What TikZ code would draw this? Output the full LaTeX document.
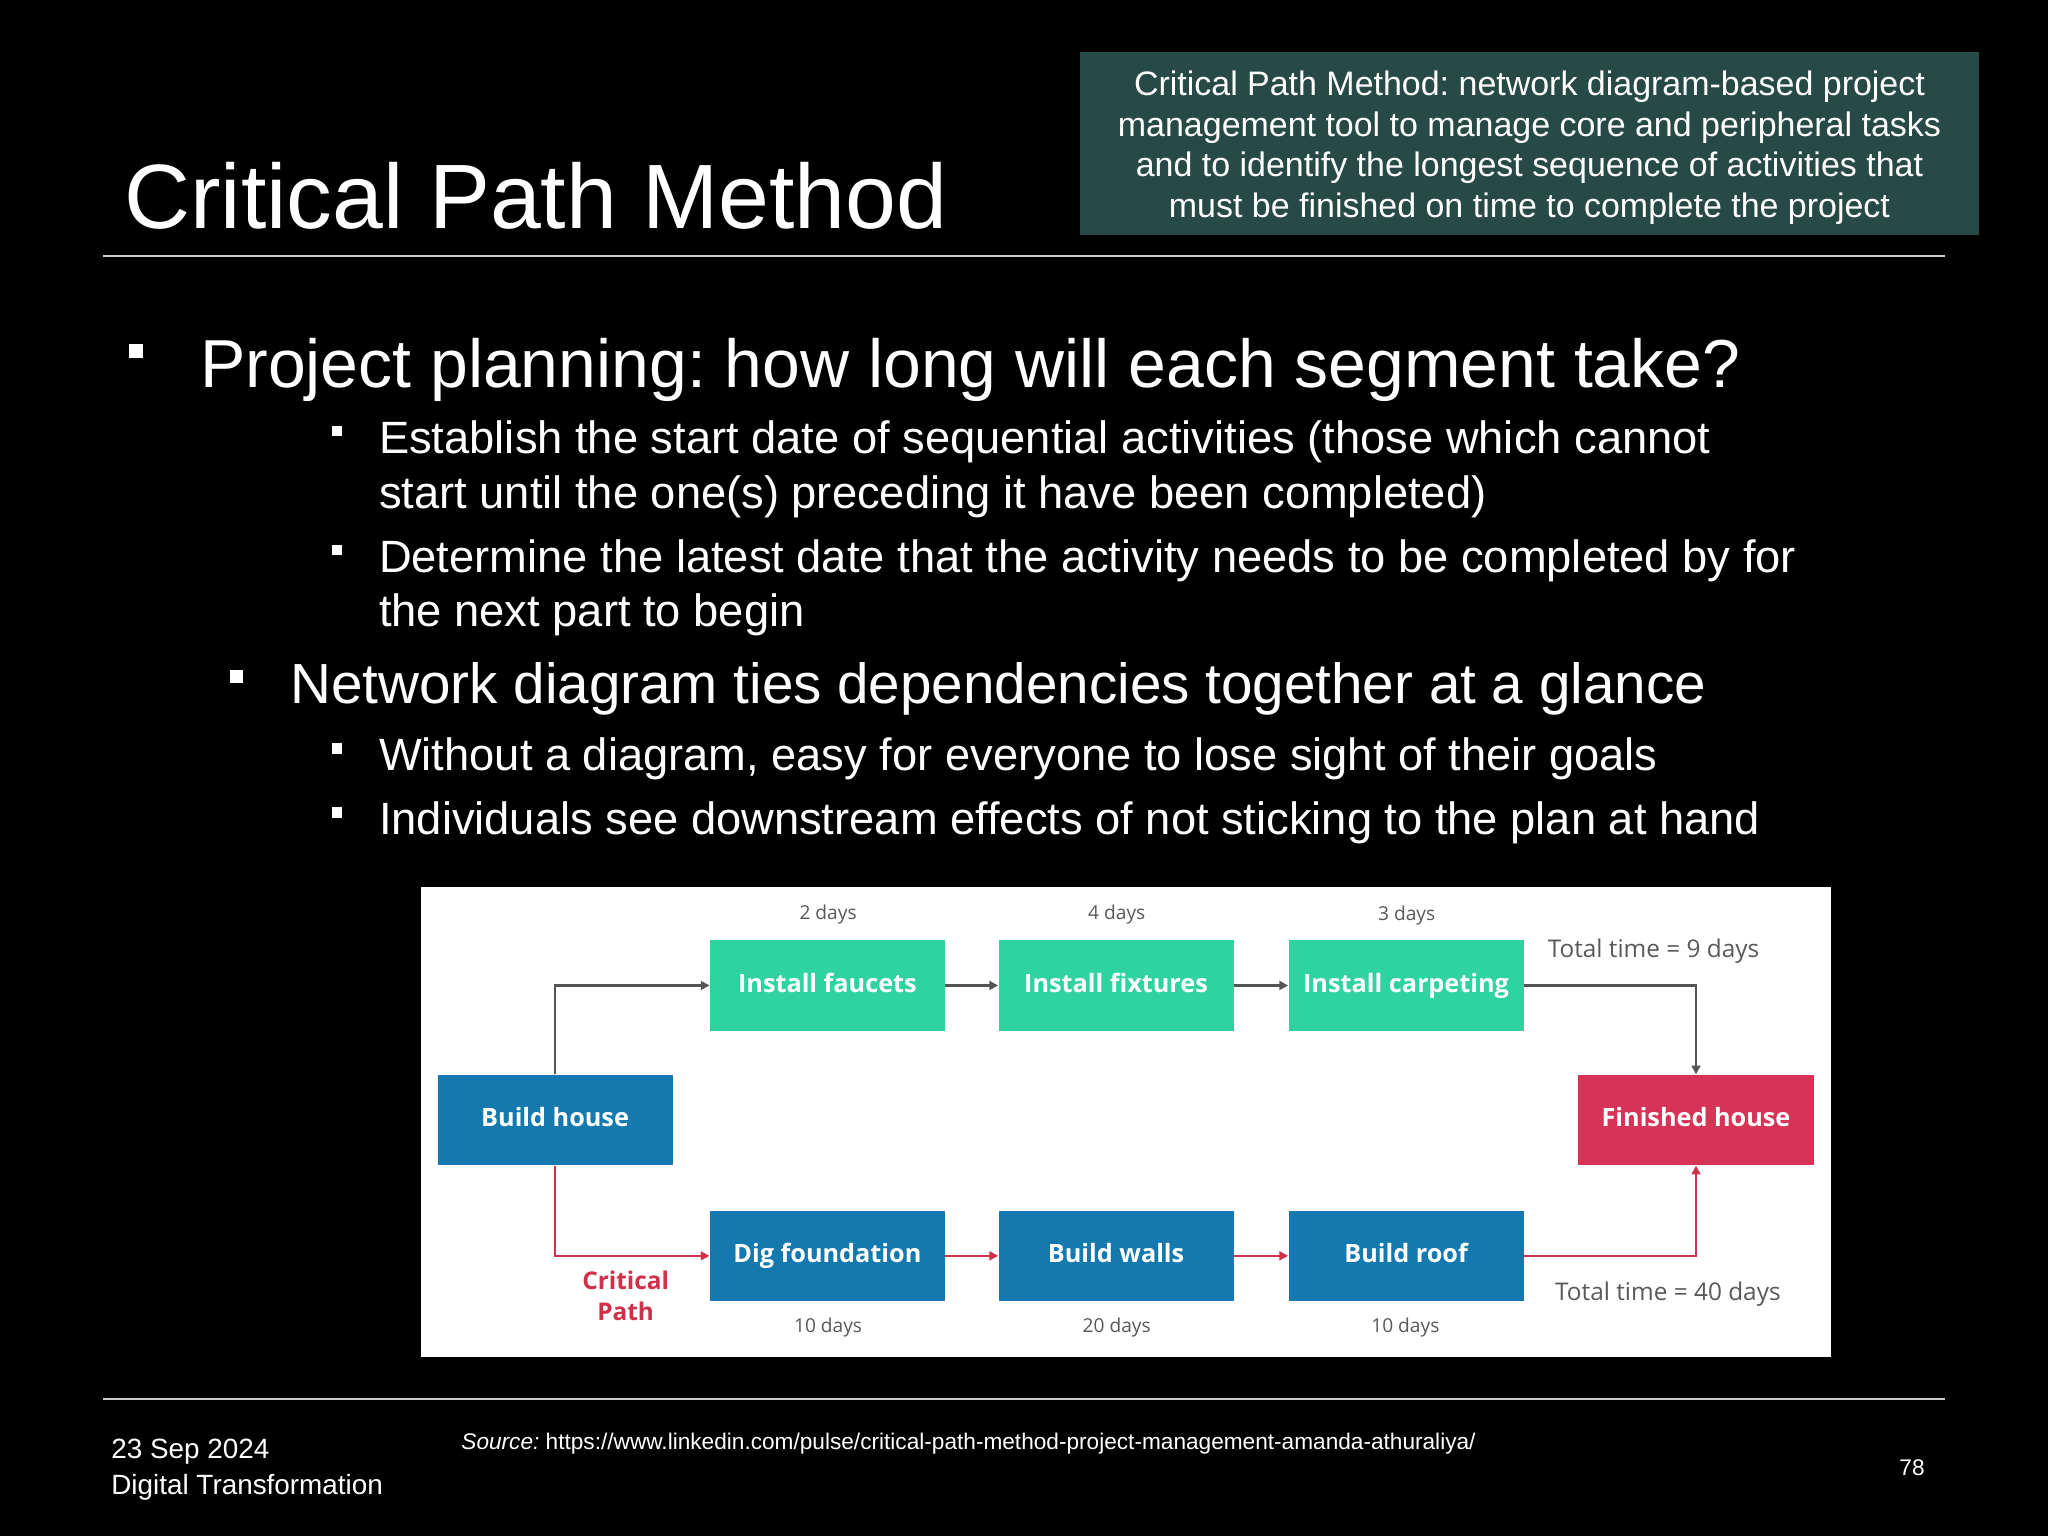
\documentclass[tikz,border=0pt]{standalone}
\usepackage{fontspec}
\setmainfont{Liberation Sans}
\newfontfamily\dfont{Open Sans}
\usetikzlibrary{arrows.meta}
\definecolor{teal}{HTML}{284A47}
\definecolor{grn}{HTML}{2ED3A0}
\definecolor{blu}{HTML}{1479AE}
\definecolor{rd}{HTML}{D63356}
\definecolor{gline}{HTML}{555555}
\definecolor{crit}{HTML}{D0304A}
\tikzset{
 fs/.style={font=\fontsize{#1}{1.2em}\selectfont},
 bul/.style={fill=white,minimum size=#1,inner sep=0pt},
 txt/.style={text=white,anchor=base west,inner sep=0pt},
 box/.style={minimum width=135pt,minimum height=52pt,inner sep=0pt,text height=10.5pt,text depth=3pt,text=white,font=\dfont\bfseries\fontsize{14.5}{16}\selectfont},
 gbox/.style={box,fill=grn},
 bbox/.style={box,fill=blu},
 rbox/.style={box,fill=rd},
 dlab/.style={text=black!65,font=\dfont\fontsize{11}{13}\selectfont,inner sep=0pt},
 tlab/.style={text=black!65,font=\dfont\fontsize{14}{16}\selectfont,inner sep=0pt},
 garr/.style={draw=gline,line width=1.4pt,-{Triangle[length=5pt,width=5pt]}},
 rarr/.style={draw=crit,line width=1.4pt,-{Triangle[length=5pt,width=5pt]}},
}
\begin{document}
\frenchspacing
\begin{tikzpicture}[x=0.75pt,y=-0.75pt]
\fill[black] (0,0) rectangle (1568,1176);
\useasboundingbox (0,0) rectangle (1568,1176);
% title
\node[txt,fs=52.5] (title) at (95,175) {Critical Path Method};
\fill[teal] (827,40) rectangle (1515,180);
\node[text=white,align=center,font=\fontsize{19.5}{23.3}\selectfont,inner sep=0pt] (def) at (1171,113) {Critical Path Method: network diagram-based project\\management tool to manage core and peripheral tasks\\and to identify the longest sequence of activities that\\must be finished on time to complete the project};
\draw[white!80!black,line width=1pt] (79,196) -- (1489,196);
% bullets
\node[bul=8pt] (b1) at (104,269) {};
\node[txt,fs=39] (t1) at (153,297) {Project planning: how long will each segment take?};
\node[bul=6pt] (b2) at (258,330) {};
\node[txt,fs=26] (t2) at (290,347) {Establish the start date of sequential activities (those which cannot};
\node[txt,fs=26] (t2b) at (290,389) {start until the one(s) preceding it have been completed)};
\node[bul=6pt] (b3) at (258,421) {};
\node[txt,fs=26] (t3) at (290,438) {Determine the latest date that the activity needs to be completed by for};
\node[txt,fs=26] (t3b) at (290,480) {the next part to begin};
\node[bul=7pt] (b4) at (181,518) {};
\node[txt,fs=32.5] (t4) at (222,539) {Network diagram ties dependencies together at a glance};
\node[bul=6pt] (b5) at (258,573) {};
\node[txt,fs=26] (t5) at (290,590) {Without a diagram, easy for everyone to lose sight of their goals};
\node[bul=6pt] (b6) at (258,622) {};
\node[txt,fs=26] (t6) at (290,639) {Individuals see downstream effects of not sticking to the plan at hand};
% diagram panel
\fill[white] (322,679) rectangle (1402,1039);
\node[bbox] (bh) at (425,857.5) {Build house};
\node[gbox] (f1) at (633.5,754.5) {Install faucets};
\node[gbox] (f2) at (854.5,754.5) {Install fixtures};
\node[gbox] (f3) at (1076.5,754.5) {Install carpeting};
\node[rbox] (fh) at (1298.5,857.5) {Finished house};
\node[bbox] (d1) at (633.5,961.5) {Dig foundation};
\node[bbox] (d2) at (854.5,961.5) {Build walls};
\node[bbox] (d3) at (1076.5,961.5) {Build roof};
\node[dlab] (l1) at (634,700) {2 days};
\node[dlab] (l2) at (855,700) {4 days};
\node[dlab] (l3) at (1077,701) {3 days};
\node[dlab] (l4) at (634,1016) {10 days};
\node[dlab] (l5) at (855,1016) {20 days};
\node[dlab] (l6) at (1076,1016) {10 days};
\node[tlab] (tt1) at (1266,728) {Total time = 9 days};
\node[tlab] (tt2) at (1277,991) {Total time = 40 days};
\node[text=crit,font=\dfont\bfseries\fontsize{14}{18}\selectfont,align=center,inner sep=0pt] (cp) at (479,992) {Critical\\Path};
\draw[garr] (bh.north) |- (f1.west);
\draw[garr] (f1) -- (f2);
\draw[garr] (f2) -- (f3);
\draw[garr] (f3.east) -| (fh.north);
\draw[rarr] (bh.south) |- (d1.west);
\draw[rarr] (d1) -- (d2);
\draw[rarr] (d2) -- (d3);
\draw[rarr] (d3.east) -| (fh.south);
% footer
\draw[white!80!black,line width=1pt] (79,1071) -- (1489,1071);
\node[txt,fs=16] (date) at (85,1117) {23 Sep 2024};
\node[txt,fs=16] (dt) at (85,1144) {Digital Transformation};
\node[txt,fs=13] (src) at (353,1110) {\textit{Source:} https://www.linkedin.com/pulse/critical-path-method-project-management-amanda-athuraliya/};
\node[txt,fs=13] (pg) at (1454,1130) {78};
\end{tikzpicture}
\end{document}
